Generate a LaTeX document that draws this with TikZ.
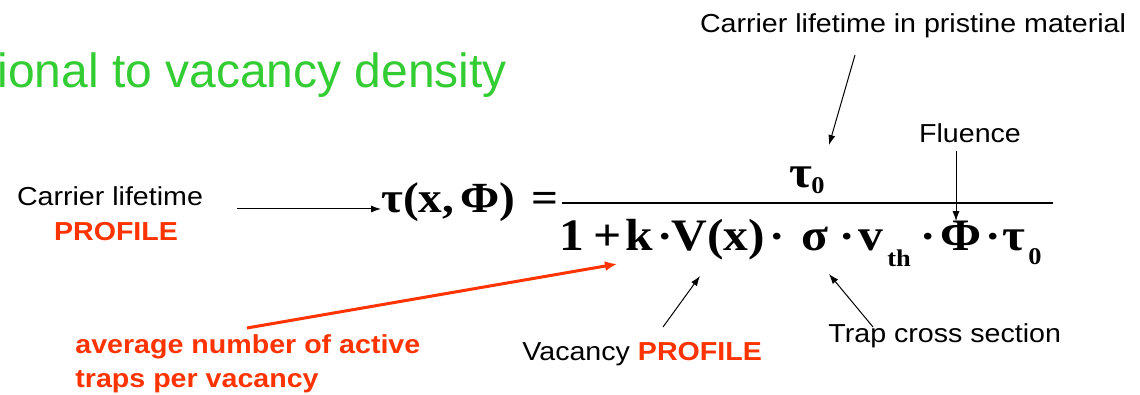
\documentclass[tikz,border=0pt]{standalone}
\usepackage{fontspec}
\setmainfont{Liberation Sans}
\newfontfamily\labfont[FakeStretch=1.1]{Liberation Sans}
\newfontfamily\eqfont[FakeStretch=1.1]{Liberation Serif}
\usetikzlibrary{arrows.meta}
\definecolor{orred}{RGB}{255,51,0}
\definecolor{titgreen}{RGB}{51,204,51}
\tikzset{
  lab/.style={inner sep=0pt, font=\labfont\fontsize{13pt}{17pt}\selectfont},
  redlab/.style={inner sep=0pt, text=orred, font=\labfont\bfseries\fontsize{13pt}{17pt}\selectfont},
  eq/.style={inner sep=0pt, anchor=base west, font=\eqfont\bfseries\fontsize{22.5pt}{26pt}\selectfont},
  eqlhs/.style={inner sep=0pt, anchor=base west, font=\eqfont\bfseries\fontsize{21.5pt}{26pt}\selectfont},
  eqdot/.style={inner sep=0pt, anchor=base, font=\eqfont\bfseries\fontsize{21pt}{24pt}\selectfont},
  eqsub/.style={inner sep=0pt, anchor=base west, font=\eqfont\bfseries\fontsize{12pt}{13pt}\selectfont},
  thinarrow/.style={draw=black, line width=0.5pt, -{Latex[length=5pt,width=3.5pt]}},
  redarrow/.style={draw=orred, line width=1.5pt, -{Latex[length=6pt,width=5pt]}},
}
\begin{document}
\begin{tikzpicture}[x=0.5pt,y=-0.5pt]
\useasboundingbox (0,0) rectangle (1140,395);
% title fragment
\node[anchor=base west, inner sep=0pt, text=titgreen, font=\fontsize{24pt}{28pt}\selectfont] (title) at (-3,88) {ional to vacancy density};
% labels
\node[lab, anchor=base] (pristine) at (913,33) {Carrier lifetime in pristine material};
\node[lab, anchor=base] (fluence) at (970,143) {Fluence};
\node[lab, anchor=base] (clt) at (110,206) {Carrier lifetime};
\node[redlab, anchor=base] (clprof) at (116,241) {PROFILE};
\node[redlab, anchor=base west] (avg1) at (75,353) {average number of active};
\node[redlab, anchor=base west] (avg2) at (75,387) {traps per vacancy};
\node[lab, anchor=base west] (vac) at (522,360) {Vacancy \textcolor{orred}{\bfseries PROFILE}};
\node[lab, anchor=base west] (trap) at (828,343) {Trap cross section};
% formula: left-hand side
\node[eqlhs] (lhs) at (381,213) {τ(x,\kern3pt Φ)\kern8pt=};
% numerator
\node[eq] (ntau) at (789,188) {τ};
\node[eqsub] (nsub) at (811,194) {0};
% fraction line
\coordinate (fl) at (562,203);
\coordinate (fr) at (1053,203);
\draw[line width=0.75pt] (fl) -- (fr);
% denominator
\node[eq] (one) at (559,251) {1};
\node[eq] (plus) at (593,251) {+};
\node[eq] (kk) at (625,251) {k};
\node[eqdot] (d1) at (665,251) {·};
\node[eq] (vx) at (671,251) {V(x)};
\node[eqdot] (d2) at (777,251) {·};
\node[eq] (sig) at (801,251) {σ};
\node[eqdot] (d3) at (847,251) {·};
\node[eq] (vv) at (858,251) {v};
\node[eqsub] (th) at (887,266) {th};
\node[eqdot] (d4) at (928,251) {·};
\node[eq] (phi) at (940,251) {Φ};
\node[eqdot] (d5) at (993,251) {·};
\node[eq] (dtau) at (1002,251) {τ};
\node[eqsub] (dsub) at (1028,264) {0};
% connectors
\coordinate (a1s) at (237,209);
\draw[thinarrow] (a1s) -- (a1s -| lhs.west);
\coordinate (ps) at (855,55);
\coordinate (pe) at (829,145);
\draw[thinarrow] (ps) -- (pe);
\coordinate (fs) at (956,151);
\draw[thinarrow] (fs) -- (fs |- phi.north);
\coordinate (rs) at (247,328);
\coordinate (re) at (617,264);
\draw[redarrow] (rs) -- (re);
\coordinate (vs) at (663,327);
\coordinate (ve) at (700,276);
\draw[thinarrow] (vs) -- (ve);
\coordinate (ts) at (873,327);
\coordinate (te) at (829,274);
\draw[thinarrow] (ts) -- (te);
\end{tikzpicture}
\end{document}
